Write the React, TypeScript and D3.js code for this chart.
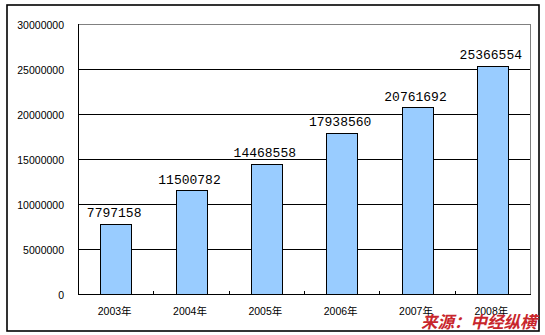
import React from "react";
import * as d3 from "d3";

const years = ["2003年", "2004年", "2005年", "2006年", "2007年", "2008年"];
const values = [7797158, 11500782, 14468558, 17938560, 20761692, 25366554];
const yTicks = [0, 5000000, 10000000, 15000000, 20000000, 25000000, 30000000];

export default function App() {
  const W = 545, H = 335;
  const left = 78, right = 530, top = 24, bottom = 294;
  const x = d3.scaleBand<string>().domain(years).range([left, right]).paddingInner(0.59).paddingOuter(0.295);
  const y = d3.scaleLinear().domain([0, 30000000]).range([bottom, top]);
  const step = (right - left) / years.length;
  return (
    <svg width={W} height={H} style={{ position: "absolute", left: 0, top: 0, background: "#fff" }}>
      <rect x={7} y={5} width={532} height={326} fill="#fff" stroke="#000" strokeWidth={1.6} />
      {/* plot border gray */}
      <line x1={left} x2={right} y1={top + 0.5} y2={top + 0.5} stroke="#808080" />
      <line x1={right + 0.5} x2={right + 0.5} y1={top} y2={bottom} stroke="#808080" />
      {yTicks.slice(1, -1).map((t) => (
        <line key={t} x1={left} x2={right} y1={Math.round(y(t)) + 0.5} y2={Math.round(y(t)) + 0.5} stroke="#000" />
      ))}
      {yTicks.map((t) => (
        <text key={"l" + t} x={64} y={y(t) + 5} textAnchor="end" fontFamily="Liberation Sans, Arial, sans-serif" fontSize={10.5} fill="#000">
          {t}
        </text>
      ))}
      {values.map((v, i) => (
        <rect key={i} x={Math.round(x(years[i])!) + 0.5} y={Math.round(y(v)) + 0.5} width={Math.round(x.bandwidth())} height={Math.round(bottom - y(v))} fill="#99CCFF" stroke="#000" strokeWidth={1} />
      ))}
      {/* axes */}
      <line x1={left + 0.5} x2={left + 0.5} y1={top} y2={bottom + 0.5} stroke="#000" />
      <line x1={left} x2={right + 1} y1={bottom + 0.5} y2={bottom + 0.5} stroke="#000" />
      {d3.range(1, years.length).map((i) => (
        <line key={"t" + i} x1={Math.round(left + i * step) + 0.5} x2={Math.round(left + i * step) + 0.5} y1={bottom - 3} y2={bottom} stroke="#000" />
      ))}
      {years.map((yr) => (
        <text key={yr} x={x(yr)! + x.bandwidth() / 2 - 1} y={315} textAnchor="middle" fontFamily="Liberation Sans, Arial, 'Noto Sans CJK SC', sans-serif" fontSize={10.5} fill="#000">
          {yr}
        </text>
      ))}
      {values.map((v, i) => (
        <text key={"v" + i} x={x(years[i])! + x.bandwidth() / 2 - 1.5} y={y(v) - 6.5} textAnchor="middle" fontFamily="Liberation Mono, DejaVu Sans Mono, monospace" fontSize={13} fill="#000">
          {v}
        </text>
      ))}
      <text x={421} y={328} fontFamily="'Noto Sans CJK SC', sans-serif" fontSize={16.5} fontWeight="bold" fontStyle="italic" fill="#c8262c">
        来源：中经纵横
      </text>
    </svg>
  );
}
